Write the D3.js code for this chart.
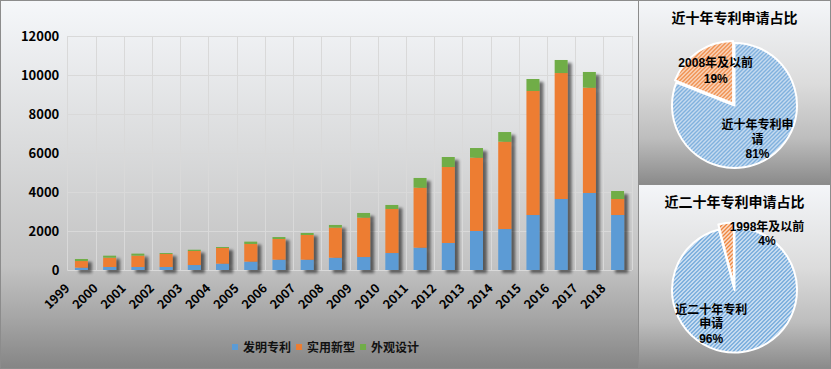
<!DOCTYPE html>
<html><head><meta charset="utf-8">
<script src="https://cdn.jsdelivr.net/npm/d3@7/dist/d3.min.js"></script>
<style>body{margin:0;background:#fff}svg{display:block}</style>
</head><body>
<svg id="c" width="831" height="369"></svg>
<script>
// ---------- data ----------
const years = ["1999","2000","2001","2002","2003","2004","2005","2006","2007","2008",
               "2009","2010","2011","2012","2013","2014","2015","2016","2017","2018"];
const invention = [120,155,155,155,255,325,430,530,530,630,665,870,1145,1385,2000,2100,2820,3640,3950,2820];
const utility   = [340,475,580,665,720,805,905,1060,1265,1540,2020,2260,3075,3895,3760,4480,6360,6460,5400,820];
const design    = [105,105,105,50,65,50,120,100,105,140,240,205,500,515,495,495,615,670,805,410];
const seriesNames = ["发明专利","实用新型","外观设计"];
const seriesColors = ["#5b9bd5","#ed7d31","#70ad47"];
const yTicks = [0,2000,4000,6000,8000,10000,12000];

const pie1Title = "近十年专利申请占比";
const pie1Values = [81,19];
const pie1Labels = [["近十年专利申","请","81%"],["2008年及以前","19%"]];
const pie2Title = "近二十年专利申请占比";
const pie2Values = [96,4];
const pie2Labels = [["近二十年专利","申请","96%"],["1998年及以前","4%"]];

// ---------- setup ----------
const svg = d3.select("#c");
const W = 831, H = 369;
const FONT = "'Noto Sans CJK SC','Liberation Sans',sans-serif";
const LFONT = "'Liberation Sans','Noto Sans CJK SC',sans-serif";
const defs = svg.append("defs");

function grad(id, stops){
  const g = defs.append("linearGradient").attr("id",id).attr("x1",0).attr("y1",0).attr("x2",0).attr("y2",1);
  stops.forEach(s=>g.append("stop").attr("offset",s[0]).attr("stop-color",s[1]));
}
grad("bgL",[[0,"#f5f7fa"],[0.4,"#dadbdc"],[0.72,"#c3c3c3"],[0.86,"#a6a6a6"],[1,"#858585"]]);
grad("bgR",[[0,"#f4f6f9"],[0.45,"#dcdcdc"],[0.75,"#bdbdbd"],[1,"#8a8a8a"]]);

function hatch(id, bg, fg){
  const p = defs.append("pattern").attr("id",id).attr("patternUnits","userSpaceOnUse")
    .attr("width",4).attr("height",4);
  p.append("rect").attr("width",4).attr("height",4).attr("fill",bg);
  p.append("path").attr("d","M-1,1 l2,-2 M0,4 l4,-4 M3,5 l2,-2")
    .attr("stroke",fg).attr("stroke-width",1.3);
}
hatch("hBlue","#e4edf7","#5b9bd5");
hatch("hOrange","#fbe4d5","#ed7d31");

const f = defs.append("filter").attr("id","shadow").attr("x","-20%").attr("y","-20%").attr("width","160%").attr("height","140%");
f.append("feGaussianBlur").attr("in","SourceAlpha").attr("stdDeviation",1.4).attr("result","b");
f.append("feOffset").attr("in","b").attr("dx",3.5).attr("dy",2.5).attr("result","o");
f.append("feComponentTransfer").attr("in","o").attr("result","s")
  .append("feFuncA").attr("type","linear").attr("slope",0.55);
const fm = f.append("feMerge");
fm.append("feMergeNode").attr("in","s");
fm.append("feMergeNode").attr("in","SourceGraphic");

// panels
svg.append("rect").attr("x",0.5).attr("y",0.5).attr("width",638).attr("height",H-1)
  .attr("fill","url(#bgL)").attr("stroke","#8c8c8c");
svg.append("rect").attr("x",638.5).attr("y",0.5).attr("width",W-639).attr("height",184)
  .attr("fill","url(#bgR)").attr("stroke","#8c8c8c");
svg.append("rect").attr("x",638.5).attr("y",184.5).attr("width",W-639).attr("height",184)
  .attr("fill","url(#bgR)").attr("stroke","#8c8c8c");

// ---------- bar chart ----------
const plot = {l:67.3, r:631.7, t:36, b:270};
const x = d3.scaleBand().domain(years).range([plot.l, plot.r]).paddingInner(0.54).paddingOuter(0.27);
const y = d3.scaleLinear().domain([0,12000]).range([plot.b, plot.t]);

// gridlines
const grid = svg.append("g").attr("stroke","#d9d9d9").attr("stroke-width",1).attr("fill","none");
yTicks.forEach(t=>{
  grid.append("line").attr("x1",plot.l).attr("x2",plot.r)
    .attr("y1",Math.round(y(t))+0.5).attr("y2",Math.round(y(t))+0.5);
});
const step = x.step();
for(let i=0;i<=years.length;i++){
  const xx = Math.round(plot.l + i*step)+0.5;
  grid.append("line").attr("x1",xx).attr("x2",xx).attr("y1",plot.t).attr("y2",plot.b);
}

// y axis labels
const yAxis = d3.axisLeft(y).tickValues(yTicks).tickSize(0).tickPadding(8).tickFormat(d3.format("d"));
const ya = svg.append("g").attr("transform",`translate(${plot.l},0)`).call(yAxis);
ya.select(".domain").remove();
ya.selectAll("text").attr("font-family",FONT).attr("font-weight","bold").attr("font-size",13).attr("fill","#000");

// stacked bars
const table = years.map((yr,i)=>({year:yr, a:invention[i], b:utility[i], c:design[i]}));
const stack = d3.stack().keys(["a","b","c"])(table);
const bars = svg.append("g").attr("filter","url(#shadow)");
stack.forEach((layer,k)=>{
  bars.selectAll(null).data(layer).join("rect")
    .attr("x",d=>x(d.data.year))
    .attr("width",x.bandwidth())
    .attr("y",d=>y(d[1]))
    .attr("height",d=>y(d[0])-y(d[1]))
    .attr("fill",seriesColors[k]);
});

// x axis labels
const xAxis = d3.axisBottom(x).tickSize(0).tickPadding(0);
const xa = svg.append("g").attr("transform",`translate(0,${plot.b})`).call(xAxis);
xa.select(".domain").remove();
xa.selectAll("text")
  .attr("font-family",FONT).attr("font-weight","bold").attr("font-size",12.5).attr("fill","#000")
  .attr("text-anchor","end").attr("dy",0).attr("y",0)
  .attr("transform","translate(-11,19) rotate(-45)");

// legend
const legend = svg.append("g").attr("font-family",FONT).attr("font-weight","bold").attr("font-size",12);
const legItems = seriesNames.map((n,i)=>({n, c:seriesColors[i]}));
let lx = 232;
legItems.forEach(it=>{
  legend.append("rect").attr("x",lx).attr("y",344).attr("width",6).attr("height",6).attr("fill",it.c);
  const t = legend.append("text").attr("x",lx+11).attr("y",351.5).attr("fill","#111").text(it.n);
  lx += 11 + t.node().getComputedTextLength() + 5;
});

// ---------- pies ----------
function drawPie(cx, cy, title, titleY, values, labels, explode, labelPos){
  const g = svg.append("g");
  g.append("text").attr("x",cx).attr("y",titleY).attr("text-anchor","middle")
    .attr("font-family",FONT).attr("font-weight","bold").attr("font-size",14).attr("fill","#000").text(title);
  const R = 62.5;
  const pie = d3.pie().sort(null).startAngle(0).endAngle(2*Math.PI)(values);
  const arc = d3.arc().innerRadius(0).outerRadius(R);
  const fills = ["url(#hBlue)","url(#hOrange)"];
  pie.forEach((p,i)=>{
    const mid = (p.startAngle+p.endAngle)/2;
    const ex = explode[i];
    const dx = Math.sin(mid)*ex, dy = -Math.cos(mid)*ex;
    g.append("path").attr("d",arc(p)).attr("transform",`translate(${cx+dx},${cy+dy})`)
      .attr("fill",fills[i]).attr("stroke","#fff").attr("stroke-width",2).attr("stroke-linejoin","round");
  });
  pie.forEach((p,i)=>{
    const lp = labelPos[i];
    const ang = lp.angle !== undefined ? lp.angle*Math.PI/180 : (p.startAngle+p.endAngle)/2;
    const lxx = cx + Math.sin(ang)*lp.r, lyy = cy - Math.cos(ang)*lp.r;
    const lines = labels[i];
    const lh = lp.lh;
    const t = g.append("text").attr("text-anchor","middle")
      .attr("font-family",LFONT).attr("font-weight","bold").attr("font-size",12).attr("fill","#000");
    lines.forEach((ln,j)=>{
      t.append("tspan").attr("x",lxx).attr("y",lyy + (j-(lines.length-1)/2)*lh + 4.5).text(ln);
    });
  });
}
drawPie(734.5, 105.5, pie1Title, 23, pie1Values, pie1Labels, [0,2.5],
        [{r:41, lh:14.5},{r:40, angle:-28, lh:16}]);
drawPie(734.5, 290, pie2Title, 207, pie2Values, pie2Labels, [0,5],
        [{r:41, angle:214.6, lh:14.5},{r:65.6, angle:29.7, lh:14}]);
</script>
</body></html>
